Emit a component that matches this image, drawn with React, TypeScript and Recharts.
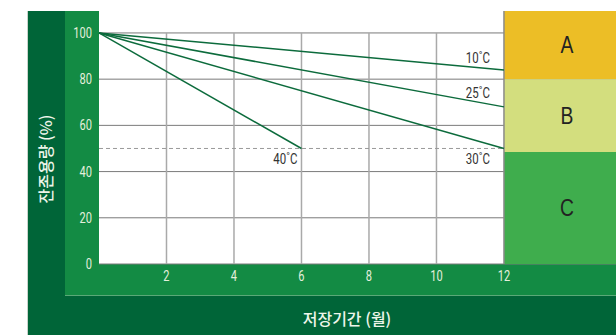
import React from 'react';
import {
  ComposedChart, Line, XAxis, YAxis, CartesianGrid, ReferenceArea, ReferenceLine,
} from 'recharts';

// ---- data ----
const xTicks = [2, 4, 6, 8, 10, 12];
const yTicks = [0, 20, 40, 60, 80, 100];
const curve10C = [{ month: 0, cap: 100 }, { month: 12, cap: 84 }];
const curve25C = [{ month: 0, cap: 100 }, { month: 12, cap: 68 }];
const curve30C = [{ month: 0, cap: 100 }, { month: 12, cap: 50 }];
const curve40C = [{ month: 0, cap: 100 }, { month: 6, cap: 50 }];
const curveNames = ['10˚C', '25˚C', '30˚C', '40˚C'];
const zoneNames = ['A', 'B', 'C'];
const zoneBounds = [[80, 109.5], [48.5, 80], [0, 48.5]];
const thresholdCap = 50;
const xMax = 15.32;
const yMax = 109.5;
const yTitle = '잔존용량 (%)';
const xTitle = '저장기간 (월)';

const TICK_FONT = 'Roboto, "Liberation Sans", sans-serif';
const KR_FONT = '"Noto Sans CJK KR", "Noto Sans", sans-serif';
const LINE_COLOR = '#0c6b3c';
const TICK_COLOR = '#e4efdc';
const zoneColors = ['#ecbe26', '#d3de7e', '#3fad4d'];
const SX = 0.74;

const Narrow = ({ x, y, anchor, baseline, size, fill, sx = SX, family = TICK_FONT, children }: any) => (
  <text
    x={x / sx}
    y={y}
    transform={`scale(${sx},1)`}
    textAnchor={anchor}
    dominantBaseline={baseline}
    fontFamily={family}
    fontSize={size}
    fill={fill}
  >
    {children}
  </text>
);

const YTick = (props: any) => (
  <Narrow x={props.x} y={props.y} anchor="end" baseline="central" size={15} fill={TICK_COLOR}>
    {props.payload.value}
  </Narrow>
);

const XTick = (props: any) => (
  <Narrow x={props.x} y={props.y + 5} anchor="middle" baseline="central" size={15} fill={TICK_COLOR}>
    {props.payload.value}
  </Narrow>
);

const endLabel = (text: string, lastIndex: number, dx: number, dy: number) => (props: any) => {
  if (props.index !== lastIndex) return null;
  return (
    <Narrow x={props.x + dx} y={props.y + dy} anchor="end" baseline="central" size={15.5} fill="#333">
      {text}
    </Narrow>
  );
};

const zoneLabel = (text: string) => (props: any) => {
  const vb = props.viewBox;
  return (
    <Narrow
      x={vb.x + vb.width / 2 + 7}
      y={vb.y + vb.height / 2}
      anchor="middle"
      baseline="central"
      size={23}
      sx={0.84}
      family='"Liberation Sans", Arial, sans-serif'
      fill="#222"
    >
      {text}
    </Narrow>
  );
};

export default function App() {
  return (
    <div style={{ position: 'absolute', left: 0, top: 0, width: 616, height: 335, background: '#fff' }}>
      <div style={{ position: 'absolute', left: 27, top: 11, width: 589, height: 324, background: '#006538', borderLeft: '1px solid #c9d3cb', boxSizing: 'border-box' }} />
      <div style={{ position: 'absolute', left: 65, top: 11, width: 551, height: 285, background: '#138b44', borderBottom: '1px solid #5aa977', boxSizing: 'border-box' }} />
      <div style={{ position: 'absolute', left: 0, top: 0 }}>
        <ComposedChart width={616} height={335} margin={{ top: 11, right: 0, bottom: 0, left: 0 }}>
          <CartesianGrid horizontal vertical={false} fill="#ffffff" stroke="#7a7a7a" strokeWidth={1} horizontalValues={yTicks} />
          <XAxis
            type="number"
            dataKey="month"
            domain={[0, xMax]}
            ticks={xTicks}
            allowDuplicatedCategory={false}
            axisLine={false}
            tickLine={false}
            tickSize={0}
            tickMargin={7}
            height={71}
            tick={<XTick />}
            label={{
              content: () => (
                <text x={347} y={318} textAnchor="middle" dominantBaseline="central" fontFamily={KR_FONT} fontSize={16} fontWeight={500} fill="#eef5ea">
                  {xTitle}
                </text>
              ),
            }}
          />
          <YAxis
            type="number"
            dataKey="cap"
            domain={[0, yMax]}
            ticks={yTicks}
            axisLine={false}
            tickLine={false}
            tickSize={0}
            tickMargin={7}
            width={99}
            tick={<YTick />}
            label={{
              content: () => (
                <text x={45} y={159} transform="rotate(-90 45 159)" textAnchor="middle" dominantBaseline="central" fontFamily={KR_FONT} fontSize={16} fontWeight={500} fill="#eef5ea">
                  {yTitle}
                </text>
              ),
            }}
          />
          {xTicks.slice(0, -1).map((t) => (
            <ReferenceLine key={'v' + t} segment={[{ x: t, y: 0 }, { x: t, y: 100 }]} stroke="#a9a9a9" strokeWidth={1.5} />
          ))}
          <ReferenceLine
            segment={[{ x: 0, y: thresholdCap }, { x: 12, y: thresholdCap }]}
            stroke="#9a9a9a"
            strokeDasharray="4 3"
          />
          {zoneNames.map((z, i) => (
            <ReferenceArea
              key={z}
              x1={12}
              x2={xMax}
              y1={zoneBounds[i][0]}
              y2={zoneBounds[i][1]}
              fill={zoneColors[i]}
              fillOpacity={1}
              stroke="none"
              label={{ content: zoneLabel(z) }}
            />
          ))}
          <ReferenceLine x={12} stroke="#8a8a8a" strokeWidth={1.5} />
          <Line data={curve10C} dataKey="cap" stroke={LINE_COLOR} strokeWidth={1.5} dot={false} isAnimationActive={false} label={endLabel(curveNames[0], 1, -14, -13)} />
          <Line data={curve25C} dataKey="cap" stroke={LINE_COLOR} strokeWidth={1.5} dot={false} isAnimationActive={false} label={endLabel(curveNames[1], 1, -14, -15)} />
          <Line data={curve30C} dataKey="cap" stroke={LINE_COLOR} strokeWidth={1.5} dot={false} isAnimationActive={false} label={endLabel(curveNames[2], 1, -14, 10)} />
          <Line data={curve40C} dataKey="cap" stroke={LINE_COLOR} strokeWidth={1.5} dot={false} isAnimationActive={false} label={endLabel(curveNames[3], 1, -4, 10)} />
        </ComposedChart>
      </div>
    </div>
  );
}
